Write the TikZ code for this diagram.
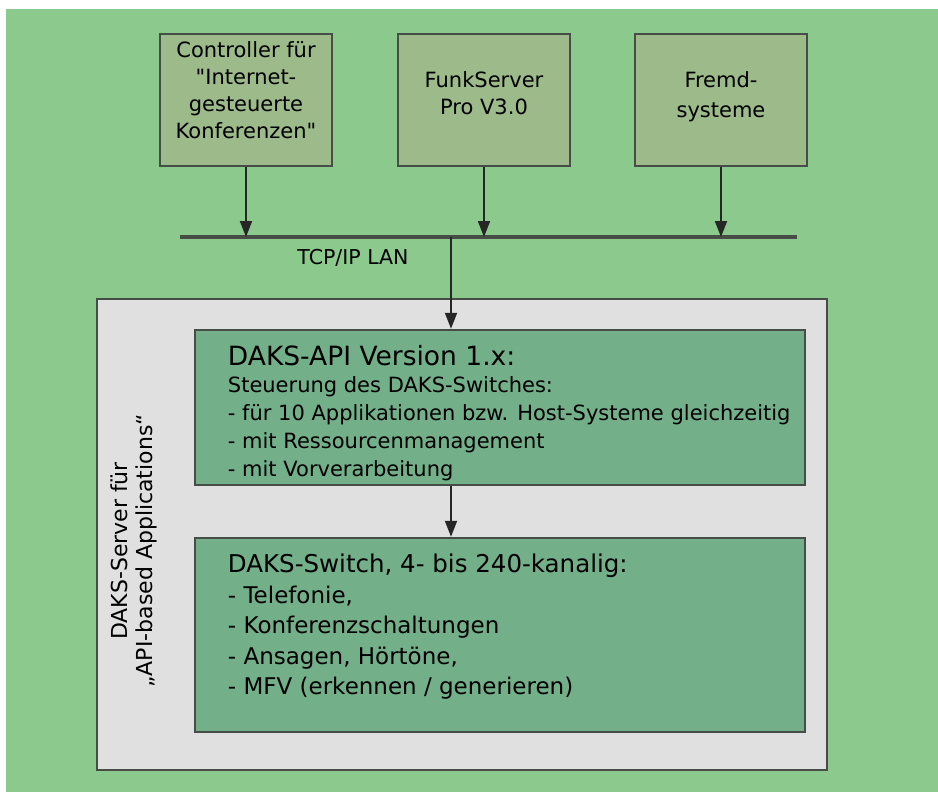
\documentclass[tikz,border=0pt]{standalone}
\usepackage{fontspec}
\setmainfont{DejaVu Sans}
\usetikzlibrary{arrows.meta,positioning}
\definecolor{bggreen}{RGB}{139,201,141}
\definecolor{topgreen}{RGB}{156,186,138}
\definecolor{srvgrey}{RGB}{224,224,224}
\definecolor{apigreen}{RGB}{115,175,137}
\definecolor{edgegrey}{RGB}{70,76,70}
% text of a top box, #1 = space above the first line
\newcommand{\topboxtext}[2]{\parbox[c][132pt][t]{168pt}{\centering\vspace*{#1}#2}}
\begin{document}
\begin{tikzpicture}[x=1pt,y=-1pt,
    box/.style={draw=edgegrey, line width=2.5pt, inner sep=0pt},
    topbox/.style={box, fill=topgreen, minimum width=172pt, minimum height=132pt,
      font=\fontsize{21}{27}\selectfont},
    innerbox/.style={box, fill=apigreen, minimum width=610pt},
    listtext/.style={inner sep=0pt, align=left, anchor=north west},
    arr/.style={-{Triangle[length=16pt,width=12pt]}, line width=1.8pt, draw=black!85},
    bus/.style={line width=4pt, draw=edgegrey}]
  % background
  \fill[white] (0,0) rectangle (938,792);
  \fill[bggreen] (6,9) rectangle (938,792);
  \useasboundingbox (0,0) rectangle (938,792);

  % systems on the LAN
  \node[topbox] (ctrl) at (246,100)
    {\topboxtext{8pt}{Controller für\\\textquotedbl Internet-\\gesteuerte\\Konferenzen\textquotedbl}};
  \node[topbox] (funk) at (484,100) {\topboxtext{38pt}{FunkServer\\Pro V3.0}};
  \node[topbox] (fremd) at (721,100) {\topboxtext{38pt}{Fremd-\\[3pt]systeme}};

  % LAN
  \coordinate (busl) at (180,237);
  \coordinate (busr) at (797,237);
  \coordinate (tap) at (451,237);
  \draw[bus] (busl) -- (busr);
  \node[font=\fontsize{20.5}{24}\selectfont] (lan) at (353,258) {TCP/IP LAN};
  \draw[arr] (ctrl.south) -- (ctrl.south |- busl);
  \draw[arr] (funk.south) -- (funk.south |- busl);
  \draw[arr] (fremd.south) -- (fremd.south |- busl);

  % DAKS server
  \node[box, fill=srvgrey, minimum width=730pt, minimum height=471pt] (server) at (462,534.5) {};
  \node[rotate=90, align=center, font=\fontsize{22}{25}\selectfont] (srvlabel) at (134,551)
    {DAKS-Server für\\„API-based Applications“};

  \node[innerbox, minimum height=155pt] (api) at (500,407.5) {};
  \node[listtext, font=\fontsize{21}{27.8}\selectfont] (apitext)
    at ([xshift=34pt,yshift=-16pt]api.north west)
    {{\fontsize{26.5}{27.8}\selectfont DAKS-API Version 1.x:}\\
     Steuerung des DAKS-Switches:\\
     - für 10 Applikationen bzw. Host-Systeme gleichzeitig\\
     - mit Ressourcenmanagement\\
     - mit Vorverarbeitung};

  \node[innerbox, minimum height=194pt] (switch) at (500,635) {};
  \node[listtext, font=\fontsize{23}{30.5}\selectfont] (switchtext)
    at ([xshift=34pt,yshift=-17pt]switch.north west)
    {{\fontsize{24.5}{30.5}\selectfont DAKS-Switch, 4- bis 240-kanalig:}\\
     - Telefonie,\\
     - Konferenzschaltungen\\
     - Ansagen, Hörtöne,\\
     - MFV (erkennen / generieren)};

  \draw[arr] (tap) -- (tap |- api.north);
  \draw[arr] (api.south -| tap) -- (switch.north -| tap);
\end{tikzpicture}
\end{document}
